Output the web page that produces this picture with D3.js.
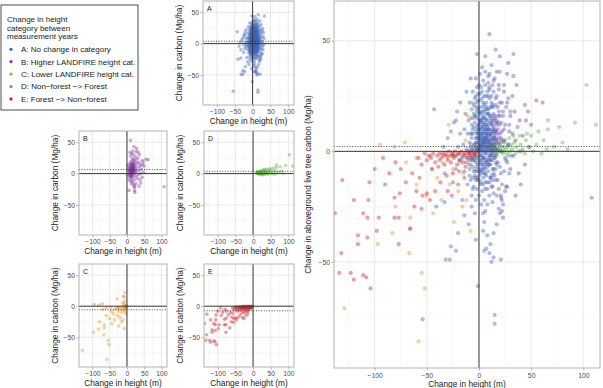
<!DOCTYPE html>
<html><head><meta charset="utf-8">
<script src="https://cdn.jsdelivr.net/npm/d3@7"></script>
<style>body{margin:0;background:#fff} text{font-family:"Liberation Sans",Arial,Helvetica,sans-serif}</style>
</head><body><svg id="c" width="603" height="388"></svg>
<script>
// ---------- data ----------
const categories = ["A","B","C","D","E"];
const legendTitle = ["Change in height","category between","measurement years"];
const legendLabels = ["A: No change in category","B: Higher LANDFIRE height cat.","C: Lower LANDFIRE height cat.","D: Non\u2212forest \u2212> Forest","E: Forest \u2212> Non\u2212forest"];
const colors = ["#3D63B8","#7E3A9C","#EE8A22","#5CB043","#CC1F28"];
const xTicks = [-100,-50,0,50,100];
const yTicks = [-50,0,50];
const xMinor = [-125,-75,-25,25,75];
const yMinor = [-75,-25,25];
const xDomain = [-139,116];
const yDomain = [-98,68];
const meansByCat = [3.8, 6.4, -5.8, 3.7, -7.4];
const meanAll = 2.2;

const ptsA = [
[-2,44],[6,43],[33,44],[16,46],[-43,19],[-54,-76],[15,-74],[15,-78],[-1,-61],[-32,-49],[-28,-49],[-27,-43],[-22,-45],[-20,-37],[-3,-40],[12,-50],[14,-48],[21,-49],[5,-45],[7,-44],[10,-46],[11,-42],[14,-37],[4,-36],[5,-32],[-7,-25],[-14,-29],[-4,-28],[4,-28],[-41,-25],[-33,-23],[20,-28],[19,-26],[23,-24],[21,-21],[-10,-33],[8,-38],[-16,-22],[17,-33],[25,-18],[-25,-14],[-33,-10],[-38,-4],[-30,6],[-34,2],[-22,14],[-18,22],[-12,27],[-8,33],[3,38],[12,39],[20,36],[24,30],[28,24],[30,18],[32,8],[31,-2],[29,-10],[27,-16],
[-20,2],[-19,-4],[-22,-8],[-25,-1],[-27,9],[-24,13],[-21,18],[-18,8],[-15,3],[-16,-3],[-14,-9],[-11,-15],[-7,-20],[-3,-22],[2,-24],[8,-24],[13,-23],[17,-20],[22,-15],[24,-9],[25,-3],[24,4],[24,10],[23,16],[22,22],[19,28],[15,33],[10,35],[6,36],[1,35],[-3,33],[-6,27],[-9,22],[-13,17],[-14,10],[28,3],[27,-5],[29,12],[26,20],
[-12,1],[-12,-5],[-9,-11],[-5,-16],[0,-20],[5,-22],[10,-20],[14,-19],[18,-13],[20,-7],[21,0],[21,6],[20,12],[19,18],[17,25],[13,30],[9,31],[4,32],[0,30],[-2,29],[-4,24],[-7,19],[-10,14],[-11,8],[-8,-6],[-9,4],[-10,-3],[-6,-12],[-2,-17],[3,-18],[8,-17],[12,-16],[15,-11],[17,-6],[18,1],[18,8],[17,14],[16,21],[12,25],[8,27],[3,27],[-1,26],[-5,17],[-3,20],[1,23],[7,22],[11,20],[14,17],[15,10],[16,3],[15,-3],[13,-8],[11,-12],[6,-14],[1,-15],[-1,-13],[-3,-9],
[0,0],[2,1],[4,3],[1,5],[3,-2],[5,6],[6,2],[8,4],[7,-1],[9,7],[10,3],[2,8],[0,10],[-1,4],[-2,1],[-3,6],[-4,-2],[1,-4],[3,-6],[5,-3],[6,-8],[8,-5],[10,-2],[11,5],[12,9],[4,12],[2,14],[6,15],[8,11],[10,13],[-1,12],[-3,9],[-5,3],[-6,-4],[0,-8],[2,-10],[4,-12],[7,-11],[9,-9],[12,-4],[13,1],[14,6],[12,14],[9,17],[5,18],[3,20],[0,17],[-2,15],[-4,13],[-6,8],[-7,1],
[1,2],[3,4],[2,-1],[4,0],[5,2],[3,7],[6,5],[7,3],[1,-2],[0,3],[2,5],[4,-3],[5,9],[6,-4],[8,1],[3,1],[1,7],[-1,1],[-2,-3],[0,-5],[7,8],[9,0],[5,11],[2,11],[4,6],[6,10],[8,14],[3,15],[-1,8],[1,13],[4,16],[7,17],[10,8],[11,-1],[9,-6],[5,-7],[2,-6],[-1,-6],[-2,6],[0,6],
[0,1],[1,3],[2,2],[3,3],[4,4],[5,5],[6,6],[7,7],[8,6],[9,5],[10,4],[11,2],[12,1],[13,3],[14,4],[12,6],[11,8],[10,10],[9,12],[8,9],[7,10],[6,12],[5,13],[4,10],[3,11],[2,9],[1,10],[0,12],[-1,10],[-2,8],[-3,4],[-4,3],[-5,1],[-4,-4],[-3,-5],[-2,-7],[-1,-9],[0,-11],[1,-9],[2,-8],[3,-9],[4,-8],[5,-10],[6,-6],[7,-5],[8,-7],[9,-3],[10,-4],[11,-6],[12,-2],[13,-1],[14,-2],[15,1],[16,5],[15,7],[14,9],[13,12],[12,12],[11,15],[10,16],[9,19],[8,19],[7,20],[6,19],[5,21],[4,22],[3,18],[2,17],[1,18],[0,20],[-1,19],[-2,18],[-3,16],[-4,16],[-5,11],[-6,10],[-7,6],[-8,2],[-7,-3],[-6,-7],[-5,-9],[-4,-11],[-3,-13],[-2,-12],[0,-13],[2,-14],[4,-15],[6,-17],[8,-14],[10,-14],[12,-11],[13,-13],[14,-10],[16,-8],[16,-5],[17,-2],[17,4],[16,9],[16,13],[15,16],[14,20],[13,21],[12,22],[10,24],[9,25],[7,25],[5,25],[3,24],[1,26],[-1,23],[-2,22],[-3,25],[-5,21],[-6,15],[-7,12],[-8,8],[-9,0],[-9,-8],[-8,-13],[-6,-17],[2,29],[6,30],[10,29],[14,27],
[4,1],[3,5],[5,4],[6,3],[7,5],[8,8],[2,3],[1,0],[0,-2],[2,-4],[4,-5],[6,0],[7,1],[9,2],[9,10],[6,8],[4,8],[2,6],[0,8],[-1,6],[-2,4],[-3,2],[-2,11],[0,14],[3,13],[5,15],[7,14]
];
const ptsB = [
[10,53],[20,43],[108,-21],[61,22],[55,23],[21,-20],[22,-27],[6,-27],[23,-30],[22,-22],[33,34],[28,40],
[8,2],[10,5],[12,8],[14,3],[16,6],[18,10],[11,-2],[13,0],[15,-3],[17,1],[19,4],[20,8],[9,10],[12,13],[15,15],[18,16],[21,13],[7,6],[6,-1],[8,-4],[10,-6],[14,-8],[18,-5],[22,0],[24,5],[25,12],[23,18],[20,22],[16,24],[12,20],[9,17],[7,12],[5,4],[4,-3],[6,-10],[11,-12],[16,-13],[21,-10],[26,-4],[28,3],[29,9],[30,16],[27,22],[24,27],[19,30],[14,32],[10,28],[30,-8],[33,-2],[35,5],[37,11],[34,18],[32,25],[38,-10],[40,0],[42,7],[45,14],[44,-6],[48,2],[26,-16],[19,-17],[13,-16],[9,34],[17,36],
[3,8],[2,14],[13,5],[15,8],[11,3],[17,12],[19,6],[14,11],[16,-1],[20,3],[12,-4],[22,9],[18,20],[36,30],[27,35],[47,18],[40,-15],[35,-20],[50,12],[39,14],[44,21],
[10,1],[12,3],[14,6],[16,9],[13,10],[11,7],[15,2],[17,5],[9,4],[18,13],[20,16],[22,5],[12,16],[14,14]
];
const ptsC = [
[-129,-71],[-58,-86],[-55,-55],[-52,-62],[-97,-42],[-83,-37],[-66,-30],[-66,-35],[-67,-46],[-8,-36],[-95,3],[-81,2],[-71,4],[-29,12],[-6,22],[-8,15],[-60,-3],[-47,-2],
[-45,-8],[-40,-12],[-35,-5],[-30,-3],[-28,-15],[-25,-8],[-22,-2],[-20,-18],[-18,-5],[-15,-10],[-14,-1],[-12,-22],[-10,-6],[-9,-2],[-8,3],[-6,-4],[-5,0],[-4,-8],[-3,2],[-2,-3],[-1,0],[-7,8],[-11,16],[-13,5],[-50,-20],[-60,-15],[-80,-25],[-44,-28],[-3,-12],[-16,-25],[-24,-32],[-36,-22],[-70,-5],[-25,-2],[-4,-1],[-2,1],[-6,-1]
];
const ptsD = [
[103,30],[112,12],[92,13],[77,11],[66,14],[66,10],[57,9],[62,5],[55,3],[50,7],[48,2],[45,5],[42,1],[40,3],[38,0],[36,2],[34,4],[32,1],[30,0],[28,2],[26,1],[24,0],[22,2],[20,1],[18,0],[16,1],[14,2],[12,0],[10,1],[15,3],[19,3],[23,-1],[27,-1],[31,3],[35,-1],[44,-1],[52,0],[65,1],[72,2],[80,4],[85,1],[60,-1],[46,8],[39,7],[33,7],[17,-1],[21,4],[25,5],[29,6],[13,1],[11,3],[28,-2],[20,0],[24,2],[16,0]
];
const ptsE = [
[-5,-1],[-8,-2],[-10,-1],[-12,-3],[-14,-1],[-16,-2],[-18,-4],[-20,-1],[-22,-2],[-24,-3],[-26,-1],[-28,-2],[-30,-4],[-32,-1],[-34,-2],[-36,-3],[-38,-1],[-40,-2],[-42,-5],[-44,-1],[-46,-3],[-48,-2],[-50,-4],[-52,-1],[-55,-6],[-58,-3],[-3,-1],[-6,-3],[-9,-4],[-15,-5],[-21,-6],[-27,-5],[-33,-6],[-39,-7],[-45,-8],[-2,0],[-7,0],[-11,0],[-17,0],[-23,0],[-29,0],[-35,-1],[-13,-7],[-19,-9],[-25,-10],[-31,-11],[-4,-2],[-9,-1],[-13,-2],[-19,-1],[-25,-2],[-31,-2],
[-131,-13],[-138,-28],[-106,-22],[-111,-28],[-107,-30],[-98,-36],[-116,-38],[-116,-42],[-107,-39],[-132,-46],[-134,-55],[-123,-55],[-111,-56],[-120,-58],[-108,-57],[-104,-62],[-81,-21],[-76,-19],[-81,-30],[-77,-30],[-77,-42],[-66,-35],[-64,-10],[-70,-14],[-75,-8],[-80,-5],[-86,-10],[-92,-3],[-100,-8],[-105,-14],[-60,-18],[-57,-12],[-54,-20],[-50,-19],[-47,-22],[-42,-18],[-37,-14],[-30,-18],[-26,-20],[-20,-15],[-14,-12],[-62,-25],[-55,-26],[-90,-15],[-120,-22],[-96,-30]
];
const seriesPts = [ptsA, ptsB, ptsC, ptsD, ptsE];

// ---------- layout ----------
const svg = d3.select("#c");
const panels = [
  {label:"A", x0:203, x1:294, y0:1,   y1:105, cats:[0]},
  {label:"B", x0:79,  x1:167, y0:131, y1:235, cats:[1]},
  {label:"D", x0:204, x1:294, y0:131, y1:235, cats:[3]},
  {label:"C", x0:79,  x1:167, y0:264, y1:367, cats:[2]},
  {label:"E", x0:204, x1:294, y0:264, y1:367, cats:[4]},
  {label:"",  x0:334, x1:600, y0:1,   y1:368, cats:[1,2,3,4,0], big:true}
];
const FONT_TICK = 6.8, FONT_TITLE = 8.3;

panels.forEach((p,i) => {
  const x = d3.scaleLinear().domain(xDomain).range([p.x0,p.x1]);
  const y = d3.scaleLinear().domain(yDomain).range([p.y1,p.y0]);
  const g = svg.append("g");
  const cid = "clip"+i;
  svg.append("clipPath").attr("id",cid).append("rect")
    .attr("x",p.x0).attr("y",p.y0).attr("width",p.x1-p.x0).attr("height",p.y1-p.y0);
  // grid
  g.selectAll(null).data(xMinor).join("line")
    .attr("x1",d=>x(d)).attr("x2",d=>x(d)).attr("y1",p.y0).attr("y2",p.y1)
    .attr("stroke","#f0f0f0").attr("stroke-width",0.5);
  g.selectAll(null).data(yMinor).join("line")
    .attr("y1",d=>y(d)).attr("y2",d=>y(d)).attr("x1",p.x0).attr("x2",p.x1)
    .attr("stroke","#f0f0f0").attr("stroke-width",0.5);
  g.selectAll(null).data(xTicks).join("line")
    .attr("x1",d=>x(d)).attr("x2",d=>x(d)).attr("y1",p.y0).attr("y2",p.y1)
    .attr("stroke","#e3e3e3").attr("stroke-width",0.8);
  g.selectAll(null).data(yTicks).join("line")
    .attr("y1",d=>y(d)).attr("y2",d=>y(d)).attr("x1",p.x0).attr("x2",p.x1)
    .attr("stroke","#e3e3e3").attr("stroke-width",0.8);
  // points
  const pg = g.append("g").attr("clip-path",`url(#${cid})`);
  const r = p.big ? 2.1 : 1.8;
  p.cats.forEach(c => {
    pg.append("g").selectAll("circle").data(seriesPts[c]).join("circle")
      .attr("cx",d=>x(d[0])).attr("cy",d=>y(d[1])).attr("r",r)
      .attr("fill",colors[c]).attr("fill-opacity",0.42);
  });
  // zero lines
  g.append("line").attr("x1",x(0)).attr("x2",x(0)).attr("y1",p.y0).attr("y2",p.y1)
    .attr("stroke","#3a3a3a").attr("stroke-width",1);
  g.append("line").attr("y1",y(0)).attr("y2",y(0)).attr("x1",p.x0).attr("x2",p.x1)
    .attr("stroke","#3a3a3a").attr("stroke-width",1);
  // mean dotted line
  const m = p.big ? meanAll : meansByCat[p.cats[0]];
  g.append("line").attr("y1",y(m)).attr("y2",y(m)).attr("x1",p.x0).attr("x2",p.x1)
    .attr("stroke","#222").attr("stroke-width",0.8).attr("stroke-dasharray","1,1.6");
  // border
  g.append("rect").attr("x",p.x0).attr("y",p.y0).attr("width",p.x1-p.x0).attr("height",p.y1-p.y0)
    .attr("fill","none").attr("stroke","#b3b3b3").attr("stroke-width",1);
  // axes
  const ax = g.append("g").attr("transform",`translate(0,${p.y1})`)
    .call(d3.axisBottom(x).tickValues(xTicks).tickSize(2.5).tickPadding(p.big?2.5:1.8));
  const ay = g.append("g").attr("transform",`translate(${p.x0},0)`)
    .call(d3.axisLeft(y).tickValues(yTicks).tickSize(2.5).tickPadding(1.5));
  [ax,ay].forEach(a => {
    a.select(".domain").remove();
    a.selectAll(".tick line").attr("stroke","#b3b3b3");
    a.selectAll(".tick text").attr("fill","#4d4d4d").style("font-size",FONT_TICK+"px")
      .style("font-family",'"Liberation Sans",Arial,sans-serif');
  });
  // titles
  const cx = (p.x0+p.x1)/2, cy = (p.y0+p.y1)/2;
  g.append("text").attr("x",cx).attr("y",p.y1 + 19).attr("text-anchor","middle")
    .style("font-size",FONT_TITLE+"px").attr("fill","#1a1a1a").text("Change in height (m)");
  g.append("text").attr("transform",`translate(${p.x0 - (p.big?23:21)},${cy}) rotate(-90)`)
    .attr("text-anchor","middle").style("font-size",FONT_TITLE+"px").attr("fill","#1a1a1a")
    .text(p.big ? "Change in aboveground live tree carbon (Mg/ha)" : "Change in carbon (Mg/ha)");
  if (p.label) {
    g.append("text").attr("x",p.x0+4).attr("y",p.y0+10).style("font-size","7px")
      .attr("fill","#1a1a1a").text(p.label);
  }
});

// ---------- legend ----------
const lg = svg.append("g");
lg.append("rect").attr("x",1).attr("y",5).attr("width",137).attr("height",105)
  .attr("fill","#fff").attr("stroke","#222").attr("stroke-width",0.8);
lg.selectAll(null).data(legendTitle).join("text")
  .attr("x",7).attr("y",(d,i)=>22+i*8.6).style("font-size","8px").attr("fill","#1a1a1a").text(d=>d);
const items = lg.selectAll(null).data(categories).join("g")
  .attr("transform",(d,i)=>`translate(0,${49.3+i*12.4})`);
items.append("circle").attr("cx",11).attr("cy",0).attr("r",1.6).attr("fill",(d,i)=>colors[i]);
items.append("text").attr("x",21).attr("y",2.8).style("font-size","8px").attr("fill","#1a1a1a")
  .text((d,i)=>legendLabels[i]);
</script></body></html>
